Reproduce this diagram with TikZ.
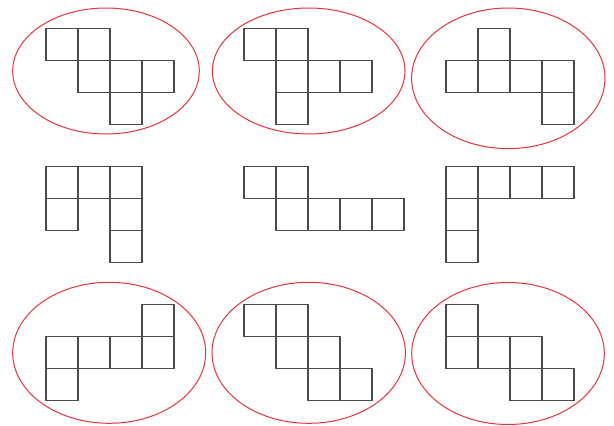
\documentclass[tikz,border=0pt]{standalone}
\begin{document}
\begin{tikzpicture}[x=1pt,y=-1pt,
  sq/.style={draw=netgray,line width=1.3pt},
  ring/.style={draw=ringred,line width=1pt}]
\definecolor{netgray}{RGB}{75,75,75}
\definecolor{ringred}{RGB}{232,50,60}
\useasboundingbox (0,0) rectangle (614,426);
% nets: origin x, origin y, list of cells
\newcommand{\netfig}[3]{%
  \foreach \c/\r in {#3} {\draw[sq] ({#1+32*\c},{#2+32*\r}) rectangle ++(32,32);}}
\netfig{46}{28.7}{0/0,1/0,1/1,2/1,3/1,2/2}
\netfig{244}{28.7}{0/0,1/0,1/1,2/1,3/1,1/2}
\netfig{446}{28.7}{1/0,0/1,1/1,2/1,3/1,3/2}
\netfig{46}{166.7}{0/0,1/0,2/0,0/1,2/1,2/2}
\netfig{244}{166.7}{0/0,1/0,1/1,2/1,3/1,4/1}
\netfig{446}{166.7}{0/0,1/0,2/0,3/0,0/1,0/2}
\netfig{46}{304.7}{3/0,0/1,1/1,2/1,3/1,0/2}
\netfig{244}{304.7}{0/0,1/0,1/1,2/1,2/2,3/2}
\netfig{446}{304.7}{0/0,0/1,1/1,2/1,2/2,3/2}
% red rings
\draw[ring] (106,71) ellipse [x radius=93.3, y radius=63];
\draw[ring] (308.7,71) ellipse [x radius=96.3, y radius=63];
\draw[ring] (508.3,78.3) ellipse [x radius=96.7, y radius=70.3];
\draw[ring] (109.2,352.8) ellipse [x radius=96.5, y radius=70.5];
\draw[ring] (308.7,352.8) ellipse [x radius=96.7, y radius=70.5];
\draw[ring] (508,353.5) ellipse [x radius=96.3, y radius=71];
\end{tikzpicture}
\end{document}
